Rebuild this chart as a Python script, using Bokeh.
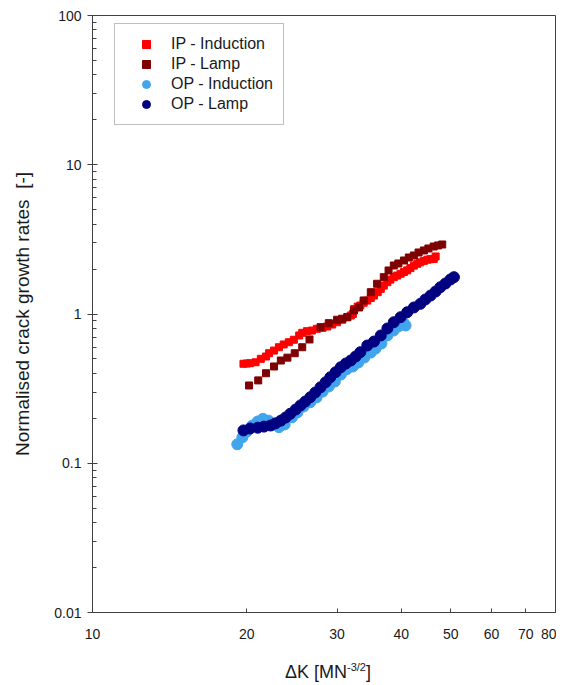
from bokeh.plotting import figure
from bokeh.models import Range1d, FixedTicker, Legend, LegendItem, Div
from bokeh.layouts import column
from bokeh.embed import file_html
from bokeh.resources import INLINE

FONT = "Liberation Sans"

# ---- data ----
ip_ind_dk = [19.7, 20.0, 20.3, 20.8, 21.3, 21.8, 22.1, 22.6, 23.1, 23.6, 24.15, 24.7, 25.3, 25.65,
             26.2, 26.8, 27.4, 28.1, 28.7, 29.35, 30.0, 30.7, 31.4, 31.9, 32.2, 32.4, 32.9, 33.3,
             33.8, 34.35, 34.9, 35.4, 36.0, 36.5, 37.0, 37.6, 38.1, 38.7, 39.3, 39.9, 40.5, 41.1,
             41.7, 42.35, 43.0, 43.6, 44.3, 45.0, 45.6, 46.3, 46.7]
ip_ind_rate = [0.464, 0.466, 0.468, 0.475, 0.501, 0.519, 0.546, 0.569, 0.599, 0.625, 0.647, 0.672,
               0.718, 0.748, 0.767, 0.775, 0.796, 0.808, 0.825, 0.850, 0.881, 0.915, 0.952, 0.977,
               1.00, 1.08, 1.12, 1.14, 1.19, 1.23, 1.28, 1.33, 1.40, 1.475, 1.55, 1.634, 1.70,
               1.765, 1.81, 1.86, 1.91, 1.96, 2.03, 2.11, 2.17, 2.22, 2.27, 2.31, 2.33, 2.34, 2.43]

ip_lamp_dk = [20.2, 21.05, 21.8, 22.6, 23.3, 24.0, 24.8, 25.65, 26.5, 27.85, 28.9, 30.0, 30.7,
              31.4, 32.35, 33.1, 33.8, 34.9, 35.9, 37.0, 37.8, 38.7, 39.5, 40.5, 41.4, 42.35,
              43.25, 44.3, 45.2, 46.3, 47.2, 48.1]
ip_lamp_rate = [0.332, 0.359, 0.401, 0.445, 0.488, 0.51, 0.546, 0.599, 0.675, 0.816, 0.868, 0.915,
                0.93, 0.952, 1.056, 1.106, 1.232, 1.40, 1.594, 1.765, 1.957, 2.113, 2.18, 2.283,
                2.391, 2.466, 2.583, 2.665, 2.748, 2.833, 2.88, 2.922]

op_ind_dk = [19.16, 19.6, 20.0, 20.5, 21.0, 21.5, 22.05, 22.55, 23.1, 23.7, 24.5, 25.1, 25.8,
             26.6, 27.35, 28.1, 28.9, 29.7, 30.5, 31.3, 32.2, 33.0, 33.9, 34.9, 35.65, 36.6,
             37.6, 38.65, 39.5, 40.4, 40.8]
op_ind_rate = [0.134, 0.149, 0.163, 0.179, 0.1905, 0.1985, 0.193, 0.182, 0.1745, 0.182, 0.203,
               0.219, 0.240, 0.2565, 0.276, 0.302, 0.327, 0.353, 0.393, 0.425, 0.445, 0.473,
               0.511, 0.552, 0.587, 0.634, 0.718, 0.775, 0.825, 0.877, 0.8375]

op_lamp_dk = [19.7, 20.3, 21.0, 21.6, 22.25, 22.75, 23.3, 23.8, 24.3, 24.9, 25.45, 26.0, 26.6,
              27.2, 27.85, 28.5, 29.1, 29.8, 30.5, 31.2, 31.9, 32.6, 33.3, 34.35, 35.4, 36.5,
              37.6, 38.7, 39.9, 41.1, 42.35, 43.6, 44.6, 45.65, 46.7, 47.7, 48.8, 49.9, 50.7]
op_lamp_rate = [0.166, 0.171, 0.173, 0.176, 0.179, 0.185, 0.193, 0.2025, 0.2145, 0.229, 0.244,
                0.259, 0.277, 0.298, 0.323, 0.349, 0.377, 0.4075, 0.440, 0.466, 0.488, 0.519,
                0.555, 0.615, 0.654, 0.718, 0.800, 0.881, 0.952, 1.028, 1.106, 1.170, 1.251,
                1.330, 1.415, 1.512, 1.601, 1.703, 1.765]

x_ticks = [10, 20, 30, 40, 50, 60, 70, 80]
y_ticks = [0.01, 0.1, 1, 10, 100]
y_tick_labels = ["0.01", "0.1", "1", "10", "100"]
y_minor = [m * d for d in [0.01, 0.1, 1, 10] for m in range(2, 10)]

series_names = ["IP - Induction", "IP - Lamp", "OP - Induction", "OP - Lamp"]
series_colors = ["#FF0000", "#7F0000", "#41A5EE", "#000080"]

AX = "#404040"
TXT = "#1a1a1a"

p = figure(width=556, height=648, x_axis_type="log", y_axis_type="log",
           x_range=Range1d(10, 80), y_range=Range1d(0.01, 100),
           output_backend="svg", toolbar_location=None,
           min_border_left=92, min_border_right=1, min_border_top=15, min_border_bottom=36)

p.grid.visible = False
p.outline_line_color = AX
p.outline_line_width = 1
p.background_fill_color = "white"
p.border_fill_color = "white"

# x axis
p.xaxis.ticker = FixedTicker(ticks=x_ticks, minor_ticks=[])
p.xaxis.major_label_overrides = {t: str(t) for t in x_ticks}
p.xaxis.major_tick_in = 4
p.xaxis.major_tick_out = 0
p.xaxis.minor_tick_in = 0
p.xaxis.minor_tick_out = 0
p.xaxis.major_label_standoff = 16
p.xaxis.axis_line_color = AX
p.xaxis.major_tick_line_color = AX
p.xaxis.major_label_text_font = FONT
p.xaxis.major_label_text_font_size = "14px"
p.xaxis.major_label_text_color = TXT

# y axis
p.yaxis.ticker = FixedTicker(ticks=y_ticks, minor_ticks=y_minor)
p.yaxis.major_label_overrides = dict(zip(y_ticks, y_tick_labels))
p.yaxis.major_tick_in = 5
p.yaxis.major_tick_out = 5
p.yaxis.minor_tick_in = 4
p.yaxis.minor_tick_out = 0
p.yaxis.major_label_standoff = 6
p.yaxis.axis_line_color = AX
p.yaxis.major_tick_line_color = AX
p.yaxis.minor_tick_line_color = AX
p.yaxis.major_label_text_font = FONT
p.yaxis.major_label_text_font_size = "14px"
p.yaxis.major_label_text_color = TXT
p.yaxis.axis_label = "Normalised crack growth rates\u00a0 [-]"
p.yaxis.axis_label_text_font = FONT
p.yaxis.axis_label_text_font_size = "19px"
p.yaxis.axis_label_text_font_style = "normal"
p.yaxis.axis_label_text_color = TXT
p.yaxis.axis_label_standoff = 18

# series
r1 = p.scatter(ip_ind_dk, ip_ind_rate, marker="square", size=7,
               fill_color=series_colors[0], line_color=series_colors[0])
r2 = p.scatter(ip_lamp_dk, ip_lamp_rate, marker="square", size=7,
               fill_color=series_colors[1], line_color=series_colors[1])
r3 = p.scatter(op_ind_dk, op_ind_rate, marker="circle", size=11,
               fill_color=series_colors[2], line_color=series_colors[2])
r4 = p.scatter(op_lamp_dk, op_lamp_rate, marker="circle", size=11,
               fill_color=series_colors[3], line_color=series_colors[3])

legend = Legend(items=[LegendItem(label=n, renderers=[r]) for n, r in
                       zip(series_names, [r1, r2, r3, r4])],
                location=(22, 487))
legend.label_text_font = FONT
legend.label_text_font_size = "16px"
legend.label_text_color = TXT
legend.label_height = 20
legend.glyph_height = 20
legend.glyph_width = 42
legend.label_standoff = 4
legend.spacing = 0
legend.padding = 10
legend.margin = 0
legend.border_line_color = "#7f7f7f"
legend.border_line_width = 1
legend.background_fill_alpha = 1
p.add_layout(legend)

# x axis title with superscript
xtitle = Div(
    text=('<div style="position:absolute; left:285px; top:14px; white-space:nowrap; '
          'font-family:\'Liberation Sans\', Arial, sans-serif; font-size:18px; '
          'line-height:20px; color:#1a1a1a;">'
          '\u0394K [MN<sup style="font-size:11px; vertical-align:7px; line-height:0;">-3/2</sup>]'
          '</div>'),
    width=556, height=36, margin=0)

layout = column(p, xtitle, spacing=0)

open("out.html", "w").write(file_html(layout, INLINE))
